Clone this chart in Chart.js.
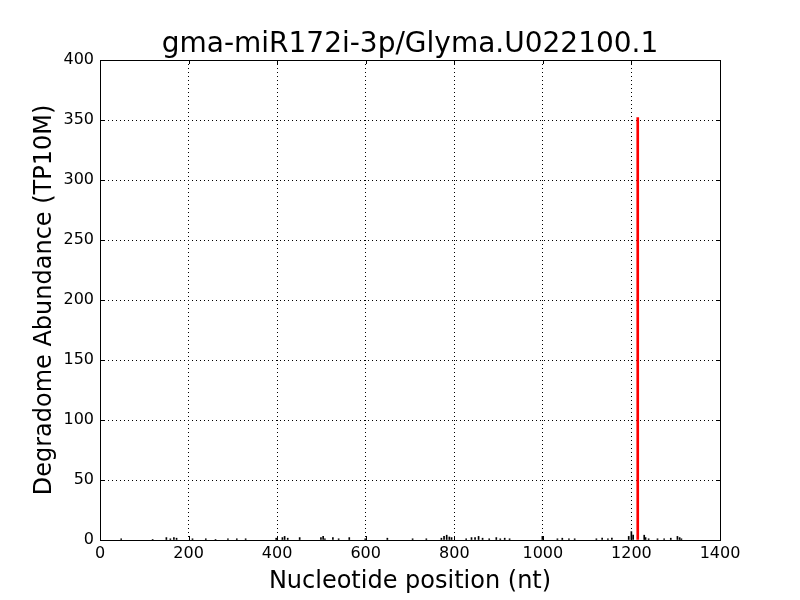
<!DOCTYPE html>
<html>
<head>
<meta charset="utf-8">
<script src="https://cdn.jsdelivr.net/npm/chart.js@4/dist/chart.umd.min.js"></script>
<style>
  html, body { margin: 0; padding: 0; background: #fff; }
  #wrap { width: 800px; height: 600px; }
</style>
</head>
<body>
<div id="wrap"><canvas id="chart" width="800" height="600"></canvas></div>
<script>
// small background reads along the transcript
var noisePos = [49, 120, 151, 160, 168, 174, 210, 240, 262, 290, 310, 330, 399, 413, 418, 425, 452,
    500, 505, 509, 527, 540, 564, 600, 650, 707, 738, 772, 778, 784, 790, 795, 828, 840, 848, 856,
    865, 880, 896, 905, 915, 926, 1000, 1034, 1045, 1060, 1073, 1122, 1135, 1148, 1157, 1195, 1201,
    1205, 1230, 1233, 1240, 1260, 1275, 1290, 1305, 1310, 1314];
var noiseVal = [1, 0.5, 2, 1, 2, 1.5, 1, 1, 0.5, 1, 1, 1, 1.5, 2, 3, 1.5, 2,
    2, 3, 1, 2, 1, 2, 1, 1.5, 1, 1, 1.5, 3, 4, 2.5, 2, 1, 2, 2, 3,
    1.5, 1, 2, 1, 1.5, 1, 3, 1, 1.5, 1, 1, 1, 1.5, 1, 1.5, 3, 7,
    4, 4, 2, 1, 1, 1, 1.5, 3, 2, 1];
// cleavage site peak
var peakPos = [1212];
var peakVal = [352];

var xTicks = [0, 200, 400, 600, 800, 1000, 1200, 1400];
var yTicks = [0, 50, 100, 150, 200, 250, 300, 350, 400];
var titleText = 'gma-miR172i-3p/Glyma.U022100.1';

function toPoints(xs, ys) {
    var out = [];
    for (var i = 0; i < xs.length; i++) out.push({x: xs[i], y: ys[i]});
    return out;
}

// axes box, inward ticks and the title centred over the plot area
var frame = {
    id: 'frame',
    afterDraw: function(chart) {
        var ctx = chart.ctx, a = chart.chartArea;
        var sx = chart.scales.x, sy = chart.scales.y;
        ctx.save();
        ctx.strokeStyle = '#000';
        ctx.lineWidth = 1;
        ctx.beginPath();
        xTicks.forEach(function(v) {
            var p = Math.round(sx.getPixelForValue(v)) + 0.5;
            ctx.moveTo(p, a.bottom); ctx.lineTo(p, a.bottom - 4);
            ctx.moveTo(p, a.top); ctx.lineTo(p, a.top + 4);
        });
        yTicks.forEach(function(v) {
            var p = Math.round(sy.getPixelForValue(v)) + 0.5;
            ctx.moveTo(a.left, p); ctx.lineTo(a.left + 4, p);
            ctx.moveTo(a.right, p); ctx.lineTo(a.right - 4, p);
        });
        ctx.stroke();
        ctx.strokeRect(Math.round(a.left) + 0.5, Math.round(a.top) + 0.5,
            Math.round(a.right - a.left), Math.round(a.bottom - a.top));
        ctx.fillStyle = '#000';
        ctx.font = '28px "DejaVu Sans"';
        ctx.textAlign = 'center';
        ctx.textBaseline = 'alphabetic';
        ctx.fillText(titleText, (a.left + a.right) / 2, 52);
        ctx.restore();
    }
};

new Chart(document.getElementById('chart'), {
    type: 'bar',
    data: {
        datasets: [{
            data: toPoints(noisePos, noiseVal),
            backgroundColor: '#000',
            barThickness: 1
        }, {
            data: toPoints(peakPos, peakVal),
            backgroundColor: '#ff0000',
            barThickness: 2
        }]
    },
    options: {
        responsive: false,
        animation: false,
        layout: { padding: { left: 0, right: 80, top: 60, bottom: 0 } },
        plugins: {
            legend: { display: false },
            tooltip: { enabled: false },
            title: { display: false }
        },
        scales: {
            x: {
                type: 'linear',
                min: 0, max: 1400,
                offset: false,
                afterFit: function(s) { s.height = 60; },
                afterBuildTicks: function(s) { s.ticks = xTicks.map(function(v) { return {value: v}; }); },
                grid: { color: '#000', lineWidth: 1, drawTicks: false, offset: false },
                border: { display: false, dash: [1, 3] },
                ticks: {
                    color: '#000', padding: 4, maxRotation: 0,
                    font: { family: 'DejaVu Sans', size: 16 },
                    callback: function(v) { return String(v); }
                },
                title: {
                    display: true,
                    text: 'Nucleotide position (nt)',
                    color: '#000',
                    padding: { top: 2 },
                    font: { family: 'DejaVu Sans', size: 24 }
                }
            },
            y: {
                min: 0, max: 400,
                afterFit: function(s) { s.width = 100; },
                afterBuildTicks: function(s) { s.ticks = yTicks.map(function(v) { return {value: v}; }); },
                grid: { color: '#000', lineWidth: 1, drawTicks: false },
                border: { display: false, dash: [1, 3] },
                ticks: {
                    color: '#000', padding: 6,
                    font: { family: 'DejaVu Sans', size: 16 },
                    callback: function(v) { return String(v); }
                },
                title: {
                    display: true,
                    text: 'Degradome Abundance (TP10M)',
                    color: '#000',
                    padding: { top: 30, bottom: 0 },
                    font: { family: 'DejaVu Sans', size: 24 }
                }
            }
        }
    },
    plugins: [frame]
});
</script>
</body>
</html>
